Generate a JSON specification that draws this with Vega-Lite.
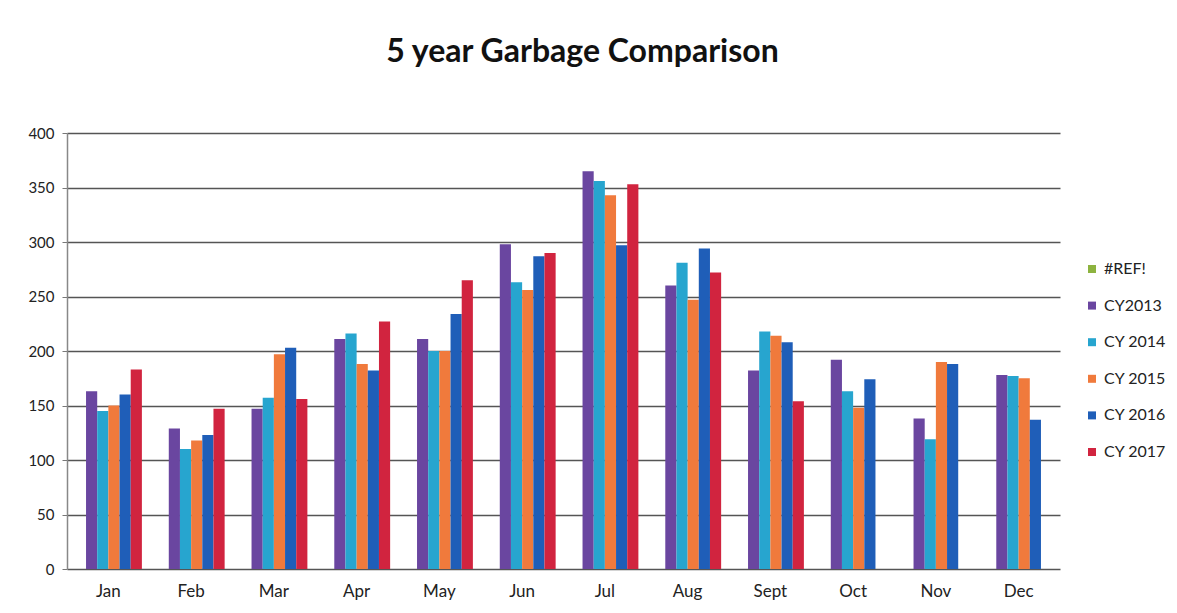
{
  "$schema": "https://vega.github.io/schema/vega-lite/v6.json",
  "autosize": "none",
  "width": 993,
  "height": 436,
  "padding": {"left": 67, "top": 133, "right": 117, "bottom": 44},
  "background": "white",
  "title": {
    "text": "5 year Garbage Comparison",
    "font": "Lato",
    "fontSize": 32,
    "fontWeight": "bold",
    "color": "#111111",
    "anchor": "middle",
    "dx": 19,
    "offset": 57
  },
  "data": {
    "values": [
      {"month": "Jan", "series": "CY2013", "value": 163},
      {"month": "Jan", "series": "CY 2014", "value": 145},
      {"month": "Jan", "series": "CY 2015", "value": 150},
      {"month": "Jan", "series": "CY 2016", "value": 160},
      {"month": "Jan", "series": "CY 2017", "value": 183},
      {"month": "Feb", "series": "CY2013", "value": 129},
      {"month": "Feb", "series": "CY 2014", "value": 110},
      {"month": "Feb", "series": "CY 2015", "value": 118},
      {"month": "Feb", "series": "CY 2016", "value": 123},
      {"month": "Feb", "series": "CY 2017", "value": 147},
      {"month": "Mar", "series": "CY2013", "value": 147},
      {"month": "Mar", "series": "CY 2014", "value": 157},
      {"month": "Mar", "series": "CY 2015", "value": 197},
      {"month": "Mar", "series": "CY 2016", "value": 203},
      {"month": "Mar", "series": "CY 2017", "value": 156},
      {"month": "Apr", "series": "CY2013", "value": 211},
      {"month": "Apr", "series": "CY 2014", "value": 216},
      {"month": "Apr", "series": "CY 2015", "value": 188},
      {"month": "Apr", "series": "CY 2016", "value": 182},
      {"month": "Apr", "series": "CY 2017", "value": 227},
      {"month": "May", "series": "CY2013", "value": 211},
      {"month": "May", "series": "CY 2014", "value": 200},
      {"month": "May", "series": "CY 2015", "value": 200},
      {"month": "May", "series": "CY 2016", "value": 234},
      {"month": "May", "series": "CY 2017", "value": 265},
      {"month": "Jun", "series": "CY2013", "value": 298},
      {"month": "Jun", "series": "CY 2014", "value": 263},
      {"month": "Jun", "series": "CY 2015", "value": 256},
      {"month": "Jun", "series": "CY 2016", "value": 287},
      {"month": "Jun", "series": "CY 2017", "value": 290},
      {"month": "Jul", "series": "CY2013", "value": 365},
      {"month": "Jul", "series": "CY 2014", "value": 356},
      {"month": "Jul", "series": "CY 2015", "value": 343},
      {"month": "Jul", "series": "CY 2016", "value": 297},
      {"month": "Jul", "series": "CY 2017", "value": 353},
      {"month": "Aug", "series": "CY2013", "value": 260},
      {"month": "Aug", "series": "CY 2014", "value": 281},
      {"month": "Aug", "series": "CY 2015", "value": 247},
      {"month": "Aug", "series": "CY 2016", "value": 294},
      {"month": "Aug", "series": "CY 2017", "value": 272},
      {"month": "Sept", "series": "CY2013", "value": 182},
      {"month": "Sept", "series": "CY 2014", "value": 218},
      {"month": "Sept", "series": "CY 2015", "value": 214},
      {"month": "Sept", "series": "CY 2016", "value": 208},
      {"month": "Sept", "series": "CY 2017", "value": 154},
      {"month": "Oct", "series": "CY2013", "value": 192},
      {"month": "Oct", "series": "CY 2014", "value": 163},
      {"month": "Oct", "series": "CY 2015", "value": 148},
      {"month": "Oct", "series": "CY 2016", "value": 174},
      {"month": "Nov", "series": "CY2013", "value": 138},
      {"month": "Nov", "series": "CY 2014", "value": 119},
      {"month": "Nov", "series": "CY 2015", "value": 190},
      {"month": "Nov", "series": "CY 2016", "value": 188},
      {"month": "Dec", "series": "CY2013", "value": 178},
      {"month": "Dec", "series": "CY 2014", "value": 177},
      {"month": "Dec", "series": "CY 2015", "value": 175},
      {"month": "Dec", "series": "CY 2016", "value": 137}
    ]
  },
  "mark": {"type": "bar"},
  "encoding": {
    "x": {
      "field": "month",
      "type": "nominal",
      "sort": ["Jan", "Feb", "Mar", "Apr", "May", "Jun", "Jul", "Aug", "Sept", "Oct", "Nov", "Dec"],
      "scale": {"paddingInner": 0.19, "paddingOuter": 0.095},
      "axis": {
        "title": null,
        "labelAngle": 0,
        "labelFont": "Lato",
        "labelFontSize": 17,
        "labelColor": "#222222",
        "labelPadding": 14,
        "ticks": false,
        "domain": false,
        "grid": false
      }
    },
    "xOffset": {
      "field": "series",
      "type": "nominal",
      "scale": {
        "domain": ["#REF!", "CY2013", "CY 2014", "CY 2015", "CY 2016", "CY 2017"],
        "paddingInner": 0,
        "paddingOuter": 0
      }
    },
    "y": {
      "field": "value",
      "type": "quantitative",
      "scale": {"domain": [0, 400], "nice": false},
      "axis": {
        "title": null,
        "values": [0, 50, 100, 150, 200, 250, 300, 350, 400],
        "labelFont": "Lato",
        "labelFontSize": 15,
        "labelColor": "#222222",
        "labelPadding": 8,
        "tickSize": 5,
        "tickColor": "#777777",
        "domainColor": "#888888",
        "domainWidth": 1.5,
        "gridColor": "#555555",
        "gridWidth": 1.3
      }
    },
    "color": {
      "field": "series",
      "type": "nominal",
      "scale": {
        "domain": ["#REF!", "CY2013", "CY 2014", "CY 2015", "CY 2016", "CY 2017"],
        "range": ["#8DB33F", "#6A46A0", "#27A5CF", "#F07A3C", "#1F5EB8", "#D1243F"]
      },
      "legend": {
        "title": null,
        "orient": "none",
        "legendX": 1017,
        "legendY": 128,
        "symbolType": "square",
        "symbolSize": 64,
        "symbolStrokeWidth": 0,
        "labelFont": "Lato",
        "labelFontSize": 16,
        "labelColor": "#222222",
        "rowPadding": 20.6,
        "labelOffset": 4
      }
    }
  },
  "config": {
    "view": {"stroke": null}
  }
}
